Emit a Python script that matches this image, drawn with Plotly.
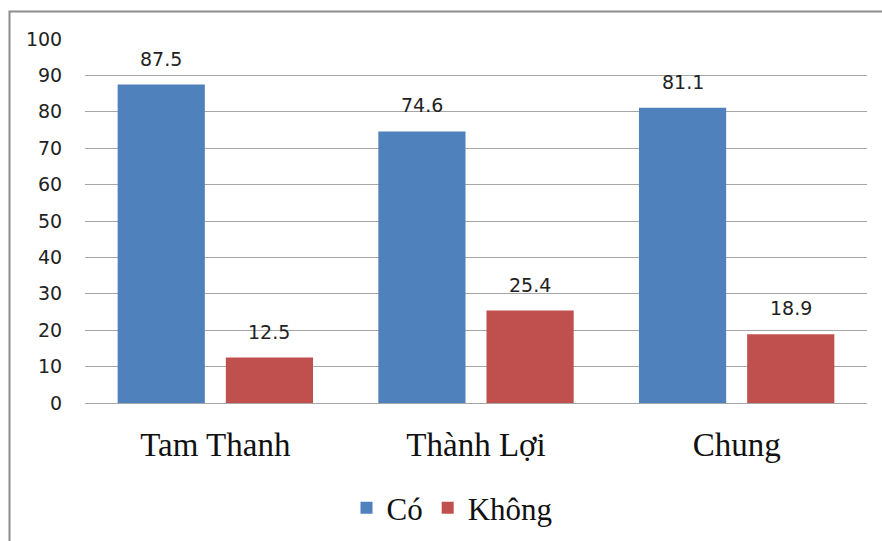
import plotly.graph_objects as go

# Survey results by commune
categories = ["Tam Thanh", "Thành Lợi", "Chung"]
series_names = ["Có", "Không"]
co_values = [87.5, 74.6, 81.1]
khong_values = [12.5, 25.4, 18.9]
y_ticks = [0, 10, 20, 30, 40, 50, 60, 70, 80, 90, 100]

colors = {"Có": "#4F81BD", "Không": "#C0504D"}

W, H = 882, 541
M = dict(l=85, r=15, t=39, b=138)
plot_w = W - M["l"] - M["r"]
plot_h = H - M["t"] - M["b"]
cat_w = plot_w / len(categories)
BARGAP = 0.17
slot_w = cat_w * (1 - BARGAP) / 2

fig = go.Figure()
for name, vals in zip(series_names, [co_values, khong_values]):
    fig.add_trace(go.Bar(
        name=name, x=categories, y=vals,
        marker=dict(color=colors[name], line=dict(width=0)),
    ))

# value labels above each bar
label_font = dict(family="DejaVu Sans", size=19, color="#222222")
for i, (name, vals) in enumerate(zip(series_names, [co_values, khong_values])):
    shift = (-0.5 if i == 0 else 0.5) * slot_w
    for cat, v in zip(categories, vals):
        fig.add_annotation(
            x=cat, y=v, xref="x", yref="y", text=f"{v}",
            showarrow=False, xshift=shift, yshift=13,
            yanchor="bottom", xanchor="center", font=label_font,
        )

# outer chart frame
fig.add_shape(
    type="rect", xref="paper", yref="paper",
    x0=(9.5 - M["l"]) / plot_w, x1=2,
    y0=-2, y1=(H - M["b"] - 11.5) / plot_h,
    line=dict(color="#8C8C8C", width=2), layer="below",
)

fig.update_layout(
    width=W, height=H, margin=dict(**M, autoexpand=False),
    paper_bgcolor="white", plot_bgcolor="white",
    barmode="group", bargap=BARGAP, bargroupgap=0.194,
    showlegend=True,
    legend=dict(
        orientation="h", x=(452 - M["l"]) / plot_w, xanchor="center",
        y=(H - M["b"] - 508) / plot_h, yanchor="middle",
        font=dict(family="Liberation Serif", size=31, color="#111111"),
        itemwidth=30, tracegroupgap=0,
    ),
    xaxis=dict(
        type="category", showgrid=False, showline=False, zeroline=False,
        automargin=False,
        ticks="outside", ticklen=12, tickcolor="rgba(0,0,0,0)",
        tickfont=dict(family="Liberation Serif", size=33, color="#111111"),
    ),
    yaxis=dict(
        range=[0, 100], tickvals=y_ticks, showgrid=True, automargin=False,
        gridcolor="#A6A6A6", gridwidth=1, zeroline=True,
        zerolinecolor="#A6A6A6", zerolinewidth=1, showline=False,
        ticks="outside", ticklen=18, tickcolor="rgba(0,0,0,0)",
        tickfont=dict(family="DejaVu Sans", size=19, color="#222222"),
    ),
)

fig.write_html("out.html")
